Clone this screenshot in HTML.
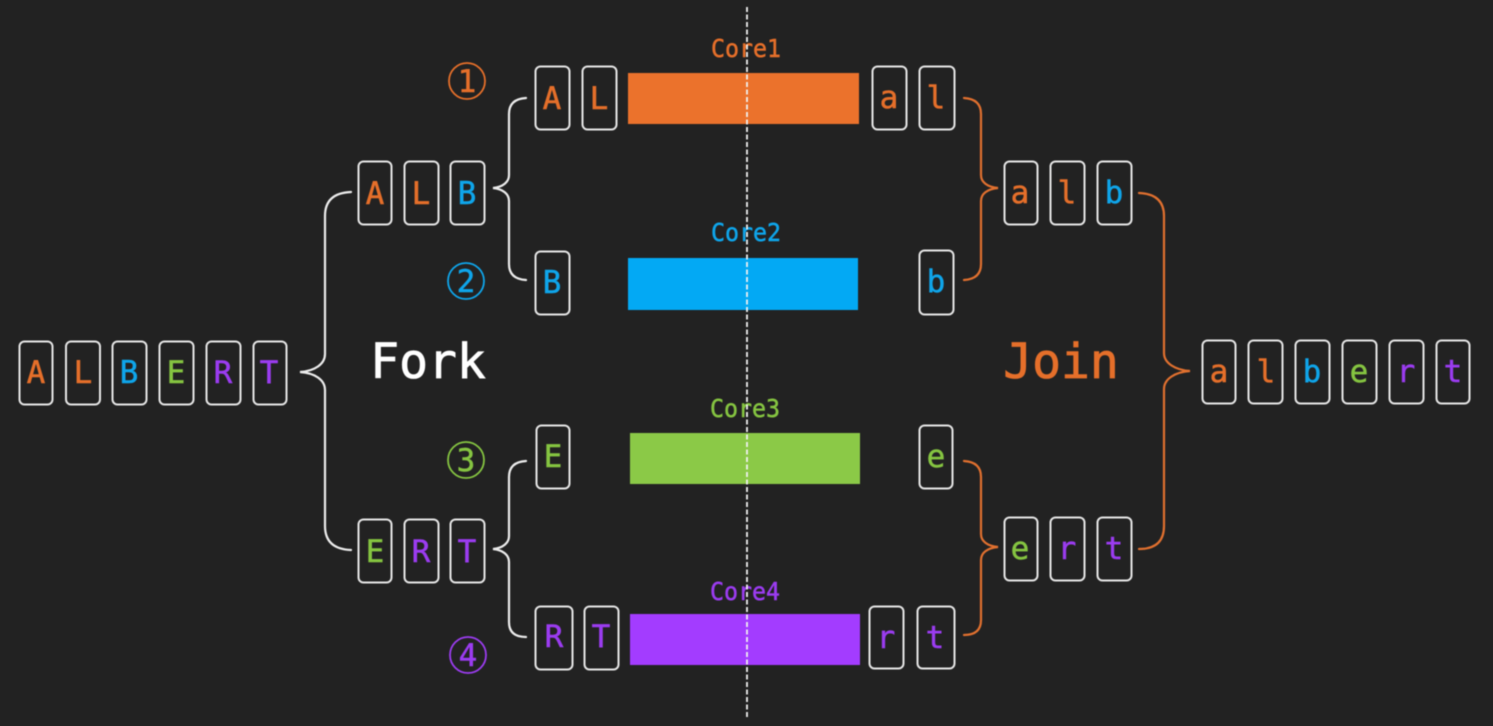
<!DOCTYPE html>
<html><head><meta charset="utf-8"><style>
html,body{margin:0;padding:0;background:#222;width:1493px;height:726px;overflow:hidden}
svg{display:block;filter:blur(0.4px)}
text{font-family:"DejaVu Sans Mono","Liberation Mono",monospace;text-anchor:middle;stroke-width:.5px}
.l{font-size:31px}
.c{font-size:25px}
.n{font-size:31px}
.o{fill:#e56f2a;stroke:#e56f2a}.b{fill:#0fa5ea;stroke:#0fa5ea}.g{fill:#85c441;stroke:#85c441}.p{fill:#9b3cf0;stroke:#9b3cf0}
rect.k{fill:none;stroke:#e6e6e6;stroke-width:2}
path{fill:none;stroke-width:2.2;stroke-linecap:round}
</style></head><body>
<svg width="1493" height="726" viewBox="0 0 1493 726" xmlns="http://www.w3.org/2000/svg">
<rect width="1493" height="726" fill="#222"/>
<rect x="628" y="73" width="231" height="51" fill="#eb722c"/>
<rect x="628" y="258" width="230" height="52" fill="#03a9f4"/>
<rect x="630" y="433" width="230" height="51" fill="#8bc947"/>
<rect x="630" y="614" width="230" height="51" fill="#a33cff"/>
<g>
<rect class="k" x="19.500" y="341.500" width="33" height="63" rx="5"/><rect class="k" x="66" y="341.500" width="34" height="63" rx="5"/><rect class="k" x="112.500" y="341.500" width="34" height="63" rx="5"/><rect class="k" x="159.500" y="341.500" width="34" height="63" rx="5"/><rect class="k" x="206.500" y="341.500" width="34" height="63" rx="5"/><rect class="k" x="253.500" y="341.500" width="33" height="63" rx="5"/>
<rect class="k" x="358.500" y="161.500" width="33" height="63" rx="5"/><rect class="k" x="404.500" y="161.500" width="34" height="63" rx="5"/><rect class="k" x="450.500" y="161.500" width="34" height="63" rx="5"/>
<rect class="k" x="358.500" y="519.500" width="33" height="63" rx="5"/><rect class="k" x="404.500" y="519.500" width="34" height="63" rx="5"/><rect class="k" x="450.500" y="519.500" width="34" height="63" rx="5"/>
<rect class="k" x="535.500" y="66.500" width="34" height="63" rx="5"/><rect class="k" x="582.500" y="66.500" width="34" height="63" rx="5"/>
<rect class="k" x="535.500" y="251.500" width="34" height="63" rx="5"/>
<rect class="k" x="536.500" y="425.500" width="33" height="63" rx="5"/>
<rect class="k" x="535.500" y="606.500" width="37" height="63" rx="5"/><rect class="k" x="584.500" y="606.500" width="34" height="63" rx="5"/>
<rect class="k" x="872.500" y="66.500" width="34" height="63" rx="5"/><rect class="k" x="919.500" y="66.500" width="35" height="63" rx="5"/>
<rect class="k" x="919.500" y="250.500" width="34" height="64" rx="5"/>
<rect class="k" x="919.500" y="425.500" width="33" height="63" rx="5"/>
<rect class="k" x="869.500" y="606.500" width="34" height="62" rx="5"/><rect class="k" x="917.500" y="606.500" width="37" height="62" rx="5"/>
<rect class="k" x="1004.500" y="161.500" width="33" height="63" rx="5"/><rect class="k" x="1050.500" y="161.500" width="34" height="63" rx="5"/><rect class="k" x="1097.500" y="161.500" width="34" height="63" rx="5"/>
<rect class="k" x="1004.500" y="517.500" width="33" height="63" rx="5"/><rect class="k" x="1050.500" y="517.500" width="34" height="63" rx="5"/><rect class="k" x="1097.500" y="517.500" width="34" height="63" rx="5"/>
<rect class="k" x="1202.500" y="340.500" width="33" height="63" rx="5"/><rect class="k" x="1248.500" y="340.500" width="34" height="63" rx="5"/><rect class="k" x="1295.500" y="340.500" width="34" height="63" rx="5"/><rect class="k" x="1342.500" y="340.500" width="34" height="63" rx="5"/><rect class="k" x="1389.500" y="340.500" width="34" height="63" rx="5"/><rect class="k" x="1436.500" y="340.500" width="33" height="63" rx="5"/>
</g>
<g stroke="#ececec">
<path d="M351 192Q325 193 325 216V354C325 364 315 371 300 372C315 373 325 380 325 390V526Q325 549 351 550"/>
<path d="M526 98Q509 99 509 114V175C509 182 503 187 493 188C503 189 509 194 509 201V264Q509 279 526 280"/>
<path d="M526 461Q509 462 509 477V536C509 543 503 548 493 549C503 550 509 555 509 562V622Q509 637 526 637"/>
</g>
<g stroke="#e0702f">
<path d="M964 98Q981 99 981 114V175C981 182 987 187 998 188C987 189 981 194 981 201V264Q981 279 964 280"/>
<path d="M964 461Q981 462 981 477V534C981 541 987 546 998 547C987 548 981 553 981 560V620Q981 635 964 635"/>
<path d="M1139 193Q1164 194 1164 216V353C1164 363 1175 370 1190 371C1175 372 1164 379 1164 389V526Q1164 549 1139 549"/>
</g>
<g>
<text class="l o" x="36" y="383">A</text><text class="l o" x="83" y="383">L</text><text class="l b" x="129" y="383">B</text><text class="l g" x="176" y="383">E</text><text class="l p" x="223" y="383">R</text><text class="l p" x="269" y="383">T</text>
<text class="l o" x="375" y="204">A</text><text class="l o" x="421" y="204">L</text><text class="l b" x="467" y="204">B</text>
<text class="l g" x="375" y="562">E</text><text class="l p" x="421" y="562">R</text><text class="l p" x="467" y="562">T</text>
<text class="l o" x="552" y="109">A</text><text class="l o" x="599" y="109">L</text>
<text class="l b" x="552" y="293">B</text>
<text class="l g" x="553" y="467">E</text>
<text class="l p" x="554" y="647">R</text><text class="l p" x="601" y="647">T</text>
<text class="l o" x="889" y="108">a</text><text class="l o" x="936" y="108">l</text>
<text class="l b" x="936" y="292">b</text>
<text class="l g" x="936" y="467">e</text>
<text class="l p" x="886" y="648">r</text><text class="l p" x="935" y="648">t</text>
<text class="l o" x="1020" y="203">a</text><text class="l o" x="1067" y="203">l</text><text class="l b" x="1114" y="203">b</text>
<text class="l g" x="1020" y="559">e</text><text class="l p" x="1067" y="559">r</text><text class="l p" x="1114" y="559">t</text>
<text class="l o" x="1219" y="382">a</text><text class="l o" x="1266" y="382">l</text><text class="l b" x="1312" y="382">b</text><text class="l g" x="1359" y="382">e</text><text class="l p" x="1406" y="382">r</text><text class="l p" x="1453" y="382">t</text>
</g>
<text x="428" y="378" font-size="48" fill="#fff" stroke="#fff" style="stroke-width:.8px">Fork</text>
<text class="o" x="1061" y="378" font-size="48" style="stroke-width:.8px">Join</text>
<text class="c o" x="746" y="57" textLength="70" lengthAdjust="spacingAndGlyphs">Core1</text>
<text class="c b" x="746" y="241" textLength="70" lengthAdjust="spacingAndGlyphs">Core2</text>
<text class="c g" x="745" y="417" textLength="70" lengthAdjust="spacingAndGlyphs">Core3</text>
<text class="c p" x="745" y="600" textLength="70" lengthAdjust="spacingAndGlyphs">Core4</text>
<g fill="none" stroke-width="1.800">
<circle cx="467" cy="81" r="18" stroke="#e56f2a"/><circle cx="466" cy="281" r="18" stroke="#0fa5ea"/><circle cx="466" cy="460" r="18" stroke="#85c441"/><circle cx="468" cy="655" r="18" stroke="#9b3cf0"/>
</g>
<text class="n o" x="467" y="92">1</text><text class="n b" x="466" y="292">2</text><text class="n g" x="466" y="471">3</text><text class="n p" x="468" y="666">4</text>
<line x1="747" y1="7" x2="747" y2="717" stroke="#f0f0f0" stroke-width="1.800" stroke-dasharray="5 2.500"/>
</svg>
</body></html>
